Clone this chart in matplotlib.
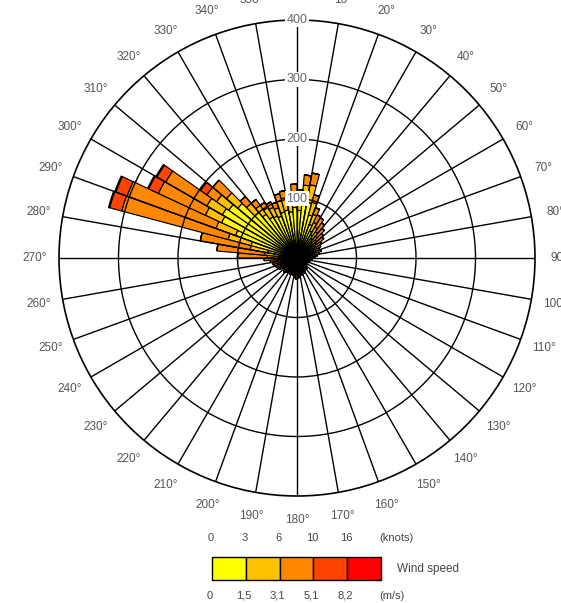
import numpy as np
import matplotlib.pyplot as plt
from matplotlib.patches import Rectangle

plt.rcParams['font.family'] = ['Liberation Sans', 'DejaVu Sans']

# 5 degree direction sectors (centres)
directions = np.arange(2.5, 360, 5)

# counts per sector for each wind speed class
speed_0_15 = [80, 95, 95, 75, 60, 50, 45, 40, 36, 32, 30, 26,
              24, 22, 22, 20, 18, 16, 15, 14, 13, 12, 12, 11,
              11, 12, 13, 14, 13, 15, 16, 15, 17, 16, 18, 19,
              19, 18, 17, 16, 17, 15, 16, 17, 18, 17, 16, 19,
              20, 21, 22, 23, 24, 26, 30, 30, 50, 80, 110, 140,
              145, 140, 130, 100, 90, 80, 78, 75, 80, 82, 78, 85]
speed_15_31 = [25, 28, 30, 22, 18, 16, 15, 14, 12, 11, 10, 9,
               8, 7, 8, 7, 6, 6, 5, 5, 4, 4, 4, 4,
               4, 4, 5, 5, 5, 5, 6, 6, 7, 6, 7, 8,
               8, 8, 7, 6, 7, 6, 6, 7, 7, 7, 6, 8,
               8, 9, 9, 9, 10, 12, 20, 25, 30, 40, 35, 30,
               30, 25, 25, 20, 18, 18, 16, 15, 20, 21, 20, 22]
speed_31_51 = [10, 17, 20, 13, 12, 14, 18, 18, 17, 15, 15, 13,
               12, 11, 12, 11, 10, 8, 6, 5, 5, 4, 4, 3,
               3, 4, 4, 5, 4, 5, 6, 5, 6, 6, 7, 7,
               8, 7, 6, 6, 6, 5, 6, 6, 7, 6, 6, 7,
               8, 8, 9, 10, 11, 17, 50, 80, 85, 185, 159, 87,
               80, 20, 30, 15, 12, 10, 10, 10, 12, 12, 10, 17]
speed_51_82 = [0] * 57 + [21, 20, 18, 17, 13] + [0] * 10
speed_82_up = [0] * 57 + [2, 2, 2, 2, 2] + [0] * 10

classes = [speed_0_15, speed_15_31, speed_31_51, speed_51_82, speed_82_up]
class_colors = ['#FFFF00', '#FFC000', '#FF8800', '#FF4400', '#FF0000']
knots_labels = ['0', '3', '6', '10', '16']
ms_labels = ['0', '1,5', '3,1', '5,1', '8,2']
rings = [100, 200, 300, 400]

fig = plt.figure(figsize=(5.61, 6.03), dpi=100)
ax = fig.add_axes([59 / 561, 107 / 603, 476 / 561, 476 / 603], projection='polar')
ax.set_theta_zero_location('N')
ax.set_theta_direction(-1)

theta = np.deg2rad(directions)
bottom = np.zeros(len(directions))
for counts, col in zip(classes, class_colors):
    counts = np.array(counts, dtype=float)
    ax.bar(theta, counts, width=np.deg2rad(5), bottom=bottom, color=col,
           edgecolor='black', linewidth=0.85, zorder=2)
    bottom += counts

ax.set_ylim(0, 400)
ax.set_yticks(rings[:-1])
ax.set_yticklabels([])
ax.set_xticks(np.deg2rad(np.arange(0, 360, 10)))
ax.set_xticklabels([])
ax.grid(True, color='black', linewidth=1.0, zorder=3)
ax.set_axisbelow(False)
ax.spines['polar'].set_linewidth(1.2)

# ring values along the north spoke
for r in rings:
    ax.text(0, r, str(r), ha='center', va='center', fontsize=9, color='#666666',
            zorder=5, bbox=dict(facecolor='white', edgecolor='none', pad=1.0))

# direction labels around the outside
for deg in range(0, 360, 10):
    ax.text(np.deg2rad(deg), 441, f'{deg}°', ha='center', va='center',
            fontsize=8.5, color='#555555', clip_on=False)

# speed legend
lax = fig.add_axes([0, 0, 1, 1], zorder=-1)
lax.set_xlim(0, 561)
lax.set_ylim(603, 0)
lax.axis('off')
x0, w = 212, 33.8
for i, col in enumerate(class_colors):
    lax.add_patch(Rectangle((x0 + i * w, 557), w, 23, facecolor=col,
                            edgecolor='black', linewidth=1.0))
for i, lab in enumerate(knots_labels):
    lax.text(x0 + i * w - 1, 538, lab, ha='center', va='center', fontsize=8, color='#444444')
for i, lab in enumerate(ms_labels):
    lax.text(x0 + i * w - 2, 596, lab, ha='center', va='center', fontsize=8, color='#444444')
lax.text(379, 538, '(knots)', ha='left', va='center', fontsize=8, color='#444444')
lax.text(379, 596, '(m/s)', ha='left', va='center', fontsize=8, color='#444444')
lax.text(397, 569, 'Wind speed', ha='left', va='center', fontsize=8.5, color='#444444')

fig.savefig('out.png', dpi=100)
